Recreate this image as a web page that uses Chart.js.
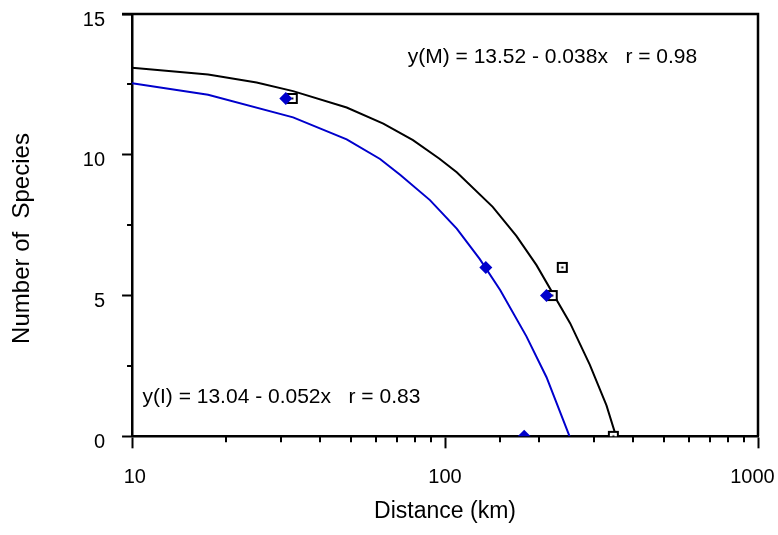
<!DOCTYPE html>
<html>
<head>
<meta charset="utf-8">
<script src="https://cdn.jsdelivr.net/npm/chart.js@4"></script>
<style>
  html, body { margin: 0; padding: 0; background: #fff; }
  #wrap { width: 778px; height: 535px; }
</style>
</head>
<body>
<div id="wrap"><canvas id="chart"></canvas></div>
<script>
/* values */
const fitX_M = [10, 17.5, 25, 32.7, 48.5, 63.5, 79, 96, 109, 142, 169, 196, 251, 290, 328, 352];
const fitY_M = [13.09, 12.85, 12.57, 12.26, 11.68, 11.11, 10.52, 9.86, 9.38, 8.15, 7.12, 6.08, 4.02, 2.55, 1.1, 0];
const fitX_I = [10, 17.5, 32.7, 48.5, 62, 72, 89.5, 109, 129, 150, 182, 211, 250];
const fitY_I = [12.54, 12.13, 11.33, 10.55, 9.85, 9.28, 8.39, 7.38, 6.3, 5.2, 3.55, 2.1, 0];

const obsX_M = [32.5, 220, 237, 345];
const obsY_M = [12, 5, 6, 0];
const obsX_I = [31, 135, 211, 179];
const obsY_I = [12, 6, 5, 0];

// decade labels (padded so the outer ones sit like in the original)
const xTickValues = [10, 100, 1000];
const xTickLabels = [' 10', '100', '1000  '];
const yTickLabels = ['0', '5', '10', '15'];

const noteText = ['y(M) = 13.52 - 0.038x   r = 0.98', 'y(I) = 13.04 - 0.052x   r = 0.83'];
const noteX = [76, 10.8];
const noteY = [13.47, 1.4];

const FONT = "'Liberation Sans', Arial, sans-serif";
const BLUE = '#0000cc';

function pairs(xs, ys){
  return xs.map((x, i) => ({x: x, y: ys[i]}));
}

function isDecade(v){
  const l = Math.log10(v);
  return Math.abs(l - Math.round(l)) < 1e-9;
}

// open square with a dot in the middle
function squareMarker(){
  const c = document.createElement('canvas');
  c.width = 13; c.height = 13;
  const g = c.getContext('2d');
  g.fillStyle = '#fff';
  g.fillRect(1, 1, 11, 11);
  g.strokeStyle = '#000';
  g.lineWidth = 2;
  g.strokeRect(2, 2, 9, 9);
  g.fillStyle = '#000';
  g.fillRect(5.5, 5.5, 2, 2);
  return c;
}

/* frame on top and right, short minor ticks, fit equations */
const decorations = {
  id: 'decorations',
  afterDraw(chart){
    const ctx = chart.ctx;
    const a = chart.chartArea;
    const xs = chart.scales.x, ys = chart.scales.y;
    ctx.save();
    ctx.strokeStyle = '#000';
    ctx.lineWidth = 2.5;
    ctx.beginPath();
    ctx.moveTo(a.left - 10, a.top);
    ctx.lineTo(a.right, a.top);
    ctx.lineTo(a.right, a.bottom);
    ctx.stroke();

    ctx.lineWidth = 2;
    ctx.beginPath();
    xs.ticks.forEach(t => {
      if(isDecade(t.value)) return;
      const px = Math.round(xs.getPixelForValue(t.value));
      ctx.moveTo(px, a.bottom);
      ctx.lineTo(px, a.bottom + 6);
    });
    ys.ticks.forEach(t => {
      if(t.value % 5 === 0) return;
      const py = Math.round(ys.getPixelForValue(t.value));
      ctx.moveTo(a.left, py);
      ctx.lineTo(a.left - 5, py);
    });
    ctx.stroke();

    ctx.fillStyle = '#000';
    ctx.font = '21px ' + FONT;
    ctx.textBaseline = 'middle';
    ctx.textAlign = 'left';
    noteText.forEach((t, i) => {
      ctx.fillText(t, xs.getPixelForValue(noteX[i]), ys.getPixelForValue(noteY[i]));
    });
    ctx.restore();
  }
};

new Chart(document.getElementById('chart'), {
  type: 'scatter',
  data: {
    datasets: [
      {
        label: 'I observed',
        data: pairs(obsX_I, obsY_I),
        pointStyle: 'rectRot',
        pointRadius: 6.5,
        pointHoverRadius: 6.5,
        backgroundColor: BLUE,
        borderColor: BLUE,
        borderWidth: 0,
        order: 0
      },
      {
        label: 'M observed',
        data: pairs(obsX_M, obsY_M),
        pointStyle: squareMarker(),
        order: 1
      },
      {
        label: 'M fit',
        data: pairs(fitX_M, fitY_M),
        showLine: true,
        pointRadius: 0,
        borderColor: '#000',
        borderWidth: 2,
        order: 2
      },
      {
        label: 'I fit',
        data: pairs(fitX_I, fitY_I),
        showLine: true,
        pointRadius: 0,
        borderColor: BLUE,
        borderWidth: 2,
        order: 3
      }
    ]
  },
  options: {
    responsive: true,
    maintainAspectRatio: false,
    animation: false,
    events: [],
    layout: { padding: { left: 8, right: 0, top: 14, bottom: 4 } },
    plugins: {
      legend: { display: false },
      tooltip: { enabled: false }
    },
    scales: {
      x: {
        type: 'logarithmic',
        min: 10,
        max: 1000,
        afterFit: s => { s.paddingLeft = 0; s.paddingRight = 20; },
        border: { color: '#000', width: 2.5 },
        grid: {
          drawOnChartArea: false,
          tickLength: 12,
          tickWidth: 2,
          tickColor: c => (c.tick && isDecade(c.tick.value)) ? '#000' : 'rgba(0,0,0,0)'
        },
        ticks: {
          autoSkip: false,
          maxRotation: 0,
          padding: 19,
          color: '#000',
          font: { family: FONT, size: 20, lineHeight: 1 },
          callback: v => {
            const i = xTickValues.indexOf(v);
            return i < 0 ? '' : xTickLabels[i];
          }
        },
        title: {
          display: true,
          text: 'Distance (km)',
          color: '#000',
          font: { family: FONT, size: 23, lineHeight: 0.49 },
          padding: { top: 0, bottom: 13.4 }
        }
      },
      y: {
        min: 0,
        max: 15,
        afterFit: s => { s.paddingTop = 0; s.paddingBottom = 0; },
        border: { color: '#000', width: 2.5 },
        grid: {
          drawOnChartArea: false,
          tickLength: 10,
          tickWidth: 2,
          tickColor: c => (c.tick && c.tick.value % 5 === 0) ? '#000' : 'rgba(0,0,0,0)'
        },
        ticks: {
          stepSize: 2.5,
          autoSkip: false,
          padding: 17,
          labelOffset: 6,
          color: '#000',
          font: { family: FONT, size: 20 },
          callback: v => yTickLabels.includes(String(v)) ? String(v) : ''
        },
        title: {
          display: true,
          text: 'Number of  Species    ',
          color: '#000',
          font: { family: FONT, size: 24 },
          padding: { top: 0, bottom: 29 }
        }
      }
    }
  },
  plugins: [decorations]
});
</script>
</body>
</html>
